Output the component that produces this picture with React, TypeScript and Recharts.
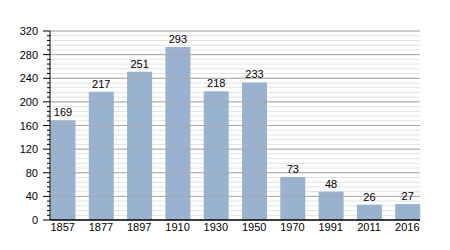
import { BarChart, Bar, XAxis, YAxis, CartesianGrid, LabelList, ReferenceLine } from 'recharts';

const years = ['1857', '1877', '1897', '1910', '1930', '1950', '1970', '1991', '2011', '2016'];
const population = [169, 217, 251, 293, 218, 233, 73, 48, 26, 27];
const majorTicks = [40, 80, 120, 160, 200, 240, 280, 320];
const minorTicks = Array.from({ length: 41 }, (_, i) => i * 8);

const data = years.map((year, i) => ({ idx: i, year, value: population[i] }));

const font = 'Liberation Sans, Arial, sans-serif';

function YTick(props: any) {
  const { x, y, payload } = props;
  const isMajor = payload.value % 40 === 0;
  return (
    <g>
      <line x1={x - (isMajor ? 7 : 3)} x2={x} y1={y} y2={y} stroke="#000" strokeWidth={1} />
      {isMajor && (
        <text x={x - 12} y={y} dy={4} textAnchor="end" fontSize={11} fontFamily={font} fill="#000">
          {payload.value}
        </text>
      )}
    </g>
  );
}

export default function App() {
  return (
    <div style={{ position: 'absolute', left: 0, top: 0, width: 450, height: 250, background: '#fff' }}>
      <BarChart width={450} height={250} data={data} margin={{ top: 31, right: 30, bottom: 10, left: 0 }}>
        <CartesianGrid vertical={false} stroke="#e2e2e2" />
        {majorTicks.map((t) => (
          <ReferenceLine key={t} y={t} stroke="#a8a8a8" strokeWidth={1} />
        ))}
        <XAxis
          dataKey="idx"
          type="number"
          domain={[-0.33, 9.33]}
          ticks={years.map((_, i) => i)}
          tickFormatter={(v: number) => years[v]}
          allowDecimals={false}
          height={20}
          tickSize={0}
          tickMargin={3}
          axisLine={{ stroke: '#000', strokeWidth: 1.5 }}
          tick={{ fontSize: 11, fontFamily: font, fill: '#000' }}
        />
        <YAxis
          domain={[0, 320]}
          ticks={minorTicks}
          interval={0}
          width={50}
          tickSize={0}
          tickMargin={0}
          tickLine={false}
          axisLine={{ stroke: '#000', strokeWidth: 1 }}
          tick={<YTick />}
        />
        <Bar dataKey="value" fill="#98b2cf" barSize={25} isAnimationActive={false}>
          <LabelList dataKey="value" position="top" offset={4} fontSize={11} fontFamily={font} fill="#000" />
        </Bar>
      </BarChart>
    </div>
  );
}
